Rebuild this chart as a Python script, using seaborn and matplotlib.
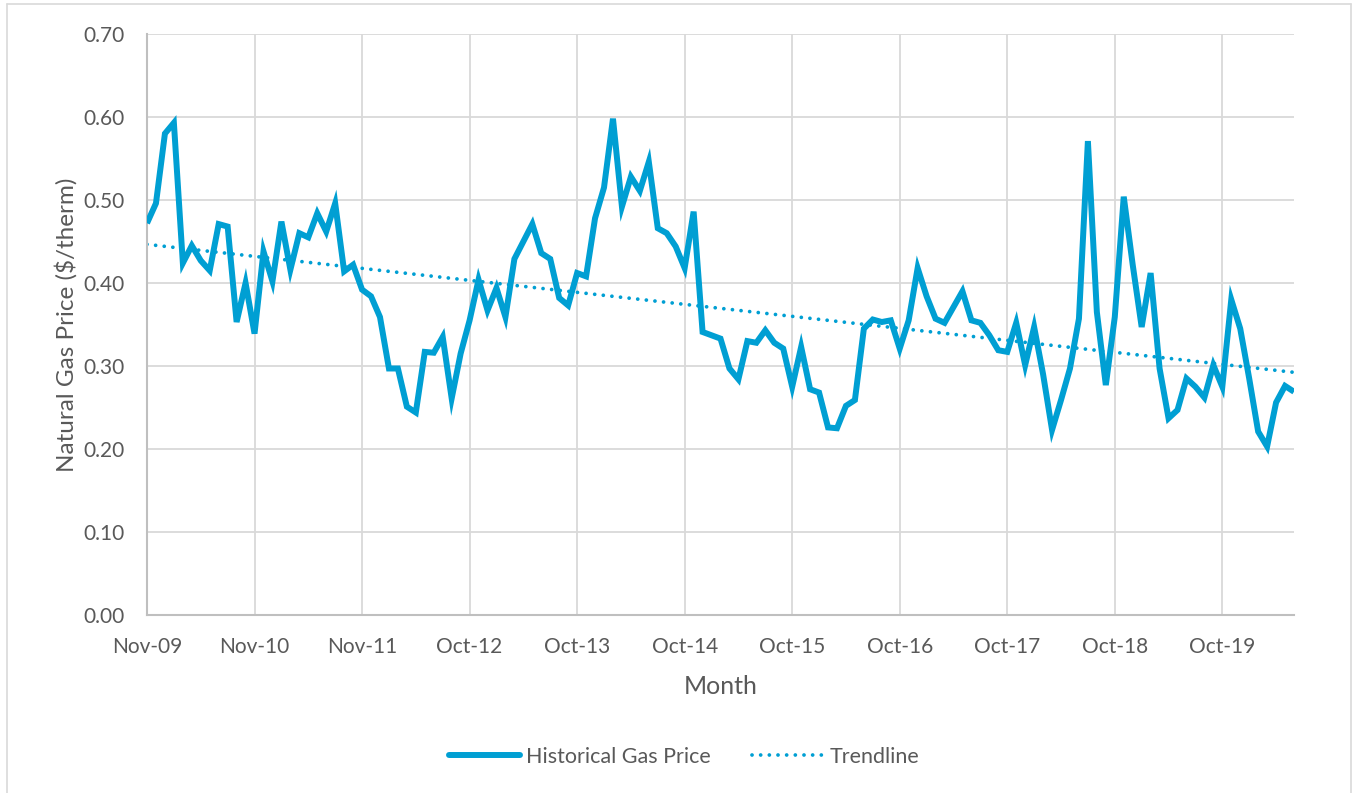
import numpy as np
import pandas as pd
import matplotlib
matplotlib.use('Agg')
import matplotlib.pyplot as plt
import seaborn as sns
from matplotlib.ticker import MultipleLocator
from matplotlib.lines import Line2D

# --- data (monthly, Nov-09 onwards) ---
prices = [0.472, 0.496, 0.580, 0.593, 0.424, 0.445, 0.427, 0.415, 0.471, 0.468,
          0.353, 0.400, 0.339, 0.438, 0.402, 0.474, 0.416, 0.460, 0.455, 0.484,
          0.462, 0.496, 0.414, 0.422, 0.392, 0.384, 0.359, 0.297, 0.297, 0.251,
          0.244, 0.317, 0.316, 0.335, 0.261, 0.315, 0.355, 0.404, 0.367, 0.394,
          0.359, 0.429, 0.450, 0.471, 0.436, 0.429, 0.382, 0.373, 0.412, 0.408,
          0.478, 0.515, 0.598, 0.492, 0.528, 0.511, 0.546, 0.466, 0.460, 0.444,
          0.418, 0.486, 0.341, 0.337, 0.333, 0.297, 0.284, 0.330, 0.328, 0.343,
          0.328, 0.321, 0.275, 0.323, 0.272, 0.268, 0.226, 0.225, 0.252, 0.259,
          0.345, 0.356, 0.353, 0.355, 0.321, 0.355, 0.418, 0.384, 0.357, 0.352,
          0.371, 0.390, 0.355, 0.352, 0.337, 0.319, 0.317, 0.352, 0.301, 0.347,
          0.290, 0.223, 0.259, 0.297, 0.357, 0.571, 0.365, 0.277, 0.359, 0.504,
          0.422, 0.347, 0.412, 0.297, 0.237, 0.247, 0.285, 0.275, 0.262, 0.301,
          0.275, 0.380, 0.345, 0.285, 0.221, 0.203, 0.256, 0.276, 0.269]
tick_labels = ['Nov-09', 'Nov-10', 'Nov-11', 'Oct-12', 'Oct-13', 'Oct-14',
               'Oct-15', 'Oct-16', 'Oct-17', 'Oct-18', 'Oct-19']

df = pd.DataFrame({'idx': np.arange(len(prices)), 'price': prices})

# linear trendline like Excel's
slope, intercept = np.polyfit(df['idx'], df['price'], 1)
df['trend'] = intercept + slope * df['idx']

# --- style ---
sns.set_style('white')
plt.rcParams['font.family'] = ['Lato', 'DejaVu Sans']
blue = '#009FD3'
grey_txt = '#595959'
grid_c = '#D9D9D9'
axis_c = '#BFBFBF'
dots = (0, (0.01, 2.3))

fig = plt.figure(figsize=(13.54, 7.93), dpi=100)
ax = fig.add_axes([147 / 1354, 1 - 615 / 793, (1294 - 147) / 1354, (615 - 34) / 793])

sns.lineplot(data=df, x='idx', y='price', ax=ax, color=blue, linewidth=4.3,
             solid_joinstyle='miter', solid_capstyle='butt', zorder=3)
sns.lineplot(data=df, x='idx', y='trend', ax=ax, color=blue, linewidth=2.7,
             linestyle=dots, dash_capstyle='round', zorder=2)

ax.set_xlim(0, len(prices) - 1)
ax.set_ylim(0, 0.70)
ax.yaxis.set_major_locator(MultipleLocator(0.1))
ax.yaxis.set_major_formatter(matplotlib.ticker.FormatStrFormatter('%.2f'))
ax.set_xticks(np.arange(0, 121, 12))
ax.set_xticklabels(tick_labels)
ax.xaxis.set_minor_locator(MultipleLocator(3))

ax.grid(True, which='major', color=grid_c, linewidth=1.3)
ax.set_axisbelow(True)
for s in ['top', 'right']:
    ax.spines[s].set_visible(False)
for s in ['left', 'bottom']:
    ax.spines[s].set_color(axis_c)
    ax.spines[s].set_linewidth(1.5)

ax.tick_params(axis='y', length=0, pad=16, labelsize=15, labelcolor=grey_txt)
ax.tick_params(axis='x', which='major', direction='in', length=5, color=axis_c,
               width=1.2, pad=16, labelsize=15, labelcolor=grey_txt)
ax.tick_params(axis='x', which='minor', direction='in', length=4, color=axis_c, width=1.2)

ax.set_xlabel('Month', fontsize=18, color=grey_txt, labelpad=13)
ax.set_ylabel('Natural Gas Price ($/therm)', fontsize=17.5, color=grey_txt, labelpad=4)

handles = [Line2D([], [], color=blue, linewidth=4.3, solid_capstyle='round'),
           Line2D([], [], color=blue, linewidth=2.7, linestyle=dots,
                  dash_capstyle='round')]
fig.legend(handles, ['Historical Gas Price', 'Trendline'], loc='center',
           bbox_to_anchor=(684 / 1354, 1 - 757 / 793), ncol=2, frameon=False,
           fontsize=15.5, labelcolor=grey_txt, handlelength=3.3,
           handletextpad=0.3, columnspacing=1.9)

# light chart-area border
for xs, ys in [([7, 7], [4, 793]), ([7, 1351], [4, 4]), ([1351, 1351], [4, 793])]:
    fig.add_artist(Line2D([x / 1354 for x in xs], [1 - y / 793 for y in ys],
                          color=grid_c, linewidth=1.2))

plt.savefig('out.png', dpi=100)
print(intercept, intercept + slope * (len(prices) - 1))
